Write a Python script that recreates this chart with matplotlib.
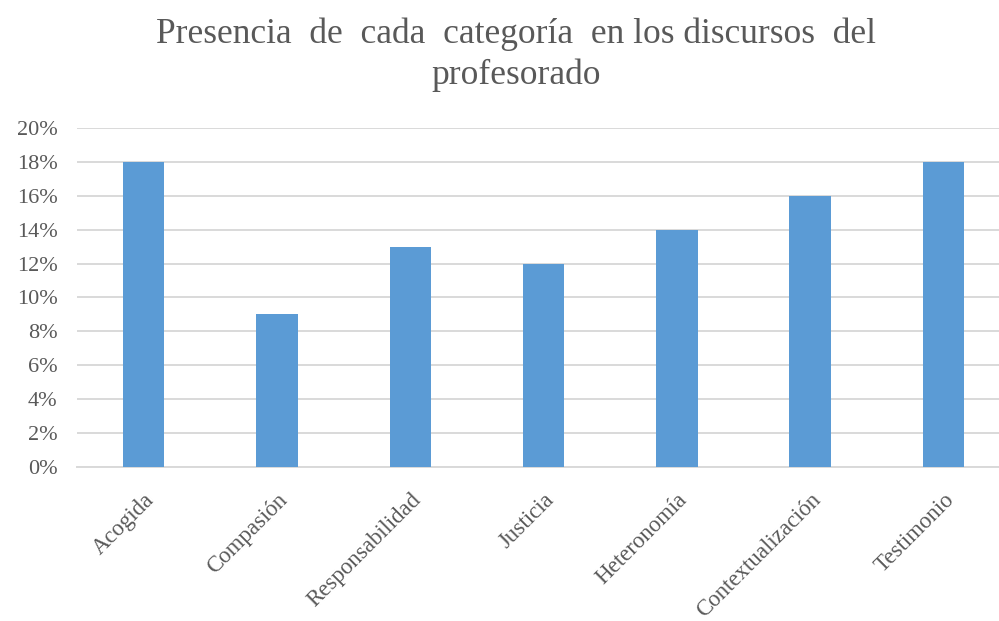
import numpy as np
import matplotlib.pyplot as plt
from matplotlib.ticker import PercentFormatter

categorias = ['Acogida', 'Compasión', 'Responsabilidad', 'Justicia',
              'Heteronomía', 'Contextualización', 'Testimonio']
presencia = [18, 9, 13, 12, 14, 16, 18]  # % del discurso
y_ticks = [0, 2, 4, 6, 8, 10, 12, 14, 16, 18, 20]

plt.rcParams['font.family'] = ['Liberation Serif', 'DejaVu Serif']
gris = '#595959'

fig = plt.figure(figsize=(9.99, 6.21), dpi=100)
ax = fig.add_axes([0.0771, 0.248, 0.934, 0.546])

x = np.arange(len(categorias))
ax.bar(x, presencia, width=0.31, color='#5B9BD5', zorder=3)

ax.set_xlim(-0.5, len(categorias) - 0.5)
ax.set_ylim(0, 20)
ax.set_yticks(y_ticks)
ax.yaxis.set_major_formatter(PercentFormatter(decimals=0))
ax.grid(axis='y', color='#D9D9D9', linewidth=1.4, zorder=0)
ax.set_axisbelow(True)

for s in ['top', 'right', 'left']:
    ax.spines[s].set_visible(False)
ax.spines['bottom'].set_color('#D9D9D9')
ax.spines['bottom'].set_linewidth(1.4)

ax.tick_params(axis='both', length=0, colors=gris, labelsize=16)
ax.tick_params(axis='y', pad=14)
ax.set_xticks(x)
ax.set_xticklabels(categorias, rotation=45, ha='right', rotation_mode='anchor',
                   fontsize=16.5)
ax.tick_params(axis='x', pad=16)

fig.suptitle('Presencia  de  cada  categoría  en los discursos  del\nprofesorado',
             x=0.517, y=0.972, fontsize=25.5, color=gris, linespacing=1.3)

fig.savefig('out.png', dpi=100)
